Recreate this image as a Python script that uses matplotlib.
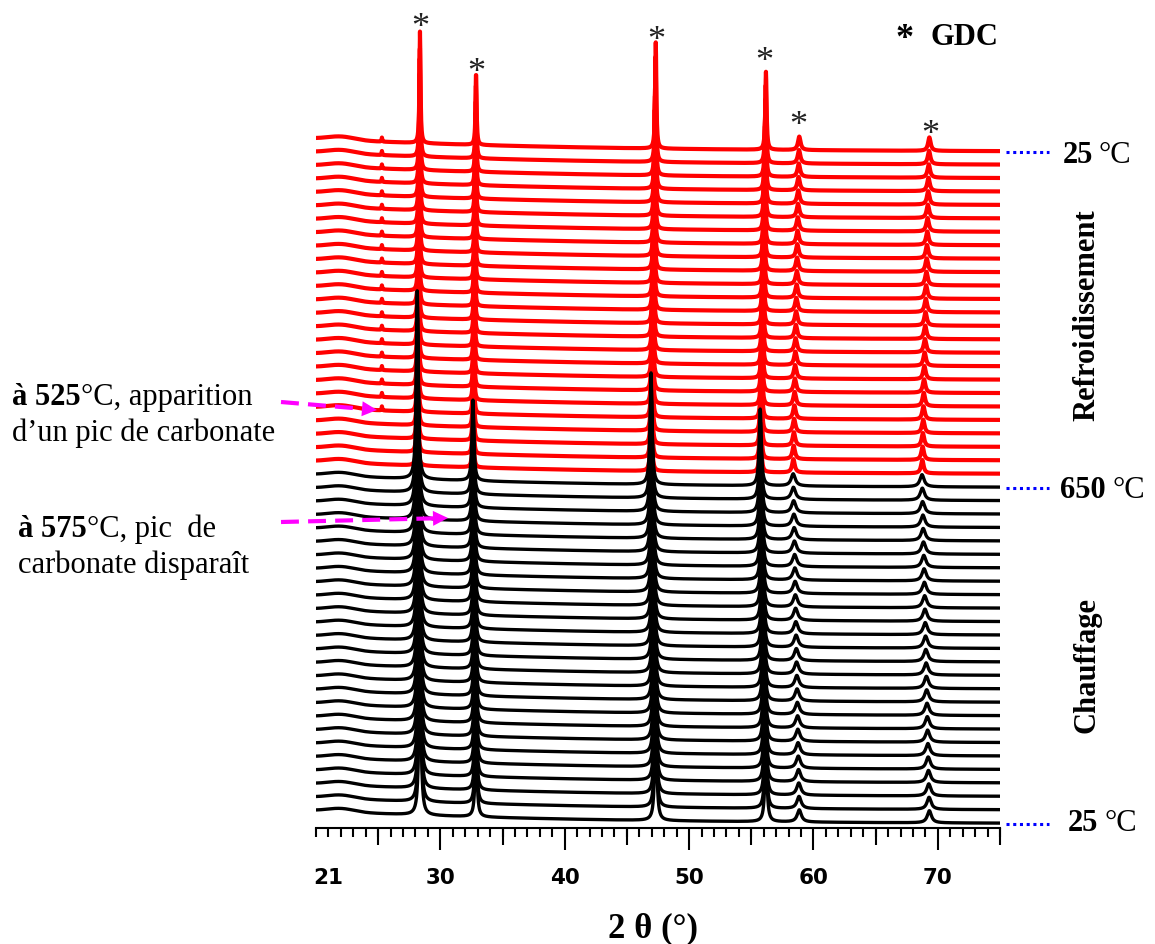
import numpy as np
import matplotlib
matplotlib.use('Agg')
import matplotlib.pyplot as plt
from matplotlib.lines import Line2D
from matplotlib.patches import FancyArrowPatch

# ---------------- data ----------------
heating_temps = [25, 50, 75, 100, 125, 150, 175, 200, 225, 250, 275, 300, 325,
                 350, 375, 400, 425, 450, 475, 500, 525, 550, 575, 600, 625, 650]
cooling_temps = [625, 600, 575, 550, 525, 500, 475, 450, 425, 400, 375, 350,
                 325, 300, 275, 250, 225, 200, 175, 150, 125, 100, 75, 50, 25]

gdc_pos_25C = [28.36, 32.87, 47.32, 56.18, 58.86, 69.32]   # 2theta at 25 C
gdc_shift_650C = [-0.22, -0.25, -0.38, -0.46, -0.49, -0.59]
heat_height = [14.0, 6.0, 8.3, 5.7, 0.9, 0.9]
heat_fwhm = [0.18, 0.18, 0.19, 0.20, 0.40, 0.40]
cool_height = [8.3, 5.4, 7.9, 5.8, 1.0, 1.0]
cool_fwhm = [0.10, 0.10, 0.11, 0.12, 0.25, 0.25]

carbonate_pos = 25.3
carbonate_height = 0.3
carbonate_fwhm = 0.06
carbonate_max_T = 525

bg_level = 1.0
bg_decay = 20.0
hump_pos, hump_height, hump_fwhm = 22.0, 0.25, 3.0

star_x = [28.36, 32.87, 47.34, 56.02, 58.76, 69.37]
star_y = [58.52, 55.17, 57.55, 55.99, 51.23, 50.63]

major_ticks = [30, 40, 50, 60, 70]
major_labels = ['30', '40', '50', '60', '70']
medium_ticks = [25, 35, 45, 55, 65, 75]
first_label = 21

# ---------------- figure ----------------
W, H = 1155, 944
def fx(px):
    return px / W
def fy(py):
    return 1 - py / H

fig = plt.figure(figsize=(W / 100, H / 100), dpi=100)
ax = fig.add_axes([316 / W, (H - 828) / H, 684 / W, (828 - 5) / H])
ax.set_xlim(20, 75)
ax.set_ylim(-0.3, (828 - 5) / 13.44 - 0.3)

x = np.linspace(20, 75, 2751)

def lor(xx, x0, h, w):
    return h / (1 + ((xx - x0) / (w / 2)) ** 2)

background = bg_level * np.exp(-(x - 20) / bg_decay) + \
    hump_height * np.exp(-((x - hump_pos) / (hump_fwhm / 2)) ** 2)

n_heat = len(heating_temps)
# heating (black)
for i, T in enumerate(heating_temps):
    frac = (T - 25) / 625
    y = background.copy()
    for p, s, h, w in zip(gdc_pos_25C, gdc_shift_650C, heat_height, heat_fwhm):
        y += lor(x, p + s * frac, h, w)
    ax.plot(x, y + i, color='black', lw=2.4, zorder=3)

# cooling (red)
for j, T in enumerate(cooling_temps):
    frac = (T - 25) / 625
    y = background.copy()
    for p, s, h, w in zip(gdc_pos_25C, gdc_shift_650C, cool_height, cool_fwhm):
        y += lor(x, p + s * frac, h, w)
    if T <= carbonate_max_T:
        y += lor(x, carbonate_pos, carbonate_height, carbonate_fwhm)
    ax.plot(x, y + n_heat + j, color='red', lw=3.0, zorder=2)

# GDC stars
for sx, sy in zip(star_x, star_y):
    ax.text(sx, sy, '*', ha='center', va='baseline', fontsize=26,
            family='Liberation Serif', color='#222222')

# axes styling
for sp in ['left', 'right', 'top']:
    ax.spines[sp].set_visible(False)
ax.spines['bottom'].set_linewidth(1.5)
ax.set_yticks([])
ax.set_xticks(major_ticks)
ax.set_xticklabels(major_labels)
ax.set_xticks(np.arange(20, 76, 1), minor=True)
ax.tick_params(axis='x', which='major', length=16, width=1.5, pad=13,
               labelsize=15.5)
ax.tick_params(axis='x', which='minor', length=6.5, width=1.5)
for lab in ax.get_xticklabels():
    lab.set_fontfamily('DejaVu Sans')
    lab.set_fontweight('bold')

sec = ax.secondary_xaxis('bottom')
sec.set_xticks(medium_ticks)
sec.set_xticklabels([])
sec.tick_params(axis='x', length=12, width=1.5)
sec.spines['bottom'].set_visible(False)

sec2 = ax.secondary_xaxis('bottom')
sec2.set_xticks([first_label])
sec2.set_xticklabels([str(first_label)])
sec2.tick_params(axis='x', length=0, pad=29, labelsize=15.5)
sec2.spines['bottom'].set_visible(False)
for lab in sec2.get_xticklabels():
    lab.set_fontfamily('DejaVu Sans')
    lab.set_fontweight('bold')

# x label
fig.text(fx(653), fy(937), '2 θ (°)', ha='center', va='baseline', fontsize=25,
         family='Liberation Serif', fontweight='bold')

# legend "* GDC"
fig.text(fx(905), fy(48), '*', ha='center', va='baseline', fontsize=26,
         family='Liberation Serif', fontweight='bold')
fig.text(fx(930), fy(45), 'GDC', ha='left', va='baseline', fontsize=22,
         family='Liberation Serif', fontweight='bold')

# right temperature labels with blue dotted leaders
for ly, lx_num, lx_deg, num, base in [(152, 1063, 1099, '25', 163),
                                      (488, 1060, 1112, '650', 498),
                                      (824, 1068, 1105, '25', 831)]:
    fig.add_artist(Line2D([fx(1006), fx(1049)], [fy(ly), fy(ly)],
                          transform=fig.transFigure, color='#0000ff', lw=2.2,
                          linestyle=(0, (1, 1.2))))
    fig.text(fx(lx_num), fy(base), num, ha='left', va='baseline', fontsize=22,
             family='Liberation Serif', fontweight='bold')
    fig.text(fx(lx_deg), fy(base), '°C', ha='left', va='baseline', fontsize=22,
             family='Liberation Serif')

fig.text(fx(1087), fy(315), 'Refroidissement', rotation=90, ha='center',
         va='center', fontsize=22, family='Liberation Serif', fontweight='bold')
fig.text(fx(1087), fy(665), 'Chauffage', rotation=90, ha='center',
         va='center', fontsize=22, family='Liberation Serif', fontweight='bold')

# left annotations (bold part + regular part)
renderer = fig.canvas.get_renderer()
def mixed(px, py, bold, regular):
    t = fig.text(fx(px), fy(py), bold, ha='left', va='baseline', fontsize=22,
                 family='Liberation Serif', fontweight='bold')
    if regular:
        bb = t.get_window_extent(renderer=renderer)
        fig.text(bb.x1 / W, fy(py), regular, ha='left', va='baseline',
                 fontsize=22, family='Liberation Serif')

mixed(12, 405, 'à 525', '°C, apparition')
fig.text(fx(12), fy(441), 'd’un pic de carbonate', ha='left', va='baseline',
         fontsize=22, family='Liberation Serif')
mixed(18, 537, 'à 575', '°C, pic  de')
fig.text(fx(18), fy(573), 'carbonate disparaît', ha='left', va='baseline',
         fontsize=22, family='Liberation Serif')

# magenta dashed arrows
for (x0, y0), (x1, y1) in [((281, 402), (377, 410)), ((281, 522), (448, 518))]:
    L = np.hypot(x1 - x0, y1 - y0)
    ux, uy = (x1 - x0) / L, (y1 - y0) / L
    xe, ye = x1 - 12 * ux, y1 - 12 * uy
    fig.add_artist(Line2D([fx(x0), fx(xe)], [fy(y0), fy(ye)],
                          transform=fig.transFigure, color='#ff00ff', lw=3,
                          linestyle=(0, (4.3, 2.2))))
    fig.add_artist(FancyArrowPatch((fx(x1 - 16 * ux), fy(y1 - 16 * uy)),
                                   (fx(x1), fy(y1)), transform=fig.transFigure,
                                   arrowstyle='-|>', mutation_scale=27,
                                   color='#ff00ff', lw=0, shrinkA=0, shrinkB=0))

fig.savefig('out.png', dpi=100)
